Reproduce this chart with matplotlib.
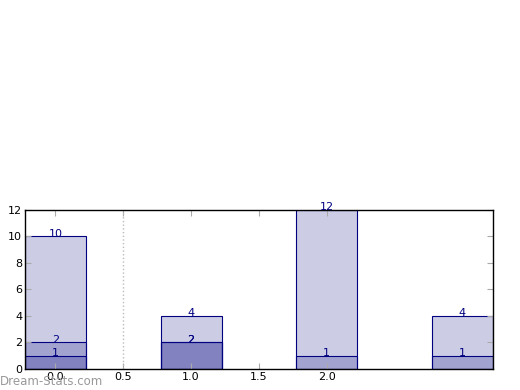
import matplotlib
matplotlib.use("Agg")
import matplotlib.pyplot as plt

positions = [0, 1, 2, 3]
series_a = [10, 4, 12, 4]
series_b = [2, 2, 1, 1]
pos_c = [0, 1]
series_c = [1, 2]
xtick_vals = [0.0, 0.5, 1.0, 1.5, 2.0]
xtick_labels = ["0.0", "0.5", "1.0", "1.5", "2.0"]
yticks = [0, 2, 4, 6, 8, 10, 12]

fig = plt.figure(figsize=(5.2, 3.9), dpi=100)
ax = fig.add_axes([0.048, 0.054, 0.900, 0.408])

w = 0.45
for xs, vals in [(positions, series_a), (positions, series_b), (pos_c, series_c)]:
    ax.bar(xs, vals, width=w, color=(0, 0, 0.5, 0.2), edgecolor="navy", linewidth=0.8)
    for x, v in zip(xs, vals):
        ax.text(x, v + 0.2, str(v), ha="center", va="center", color="navy", fontsize=8)

ax.axvline(0.5, color="#bbbbbb", linestyle=":", linewidth=1)
ax.set_xlim(-0.225, 3.225)
ax.set_ylim(0, 12)
ax.set_xticks(xtick_vals)
ax.set_xticklabels(xtick_labels)
ax.set_yticks(yticks)
ax.tick_params(direction="in", length=4, color="#aaaaaa", labelsize=8,
               top=True, right=True, pad=2)
for s in ax.spines.values():
    s.set_color("black")
    s.set_linewidth(1)

fig.text(0.0, 0.005, "Dream-Stats.com", color="#999999", fontsize=8.5,
         ha="left", va="bottom")

fig.savefig("out.png", dpi=100)
